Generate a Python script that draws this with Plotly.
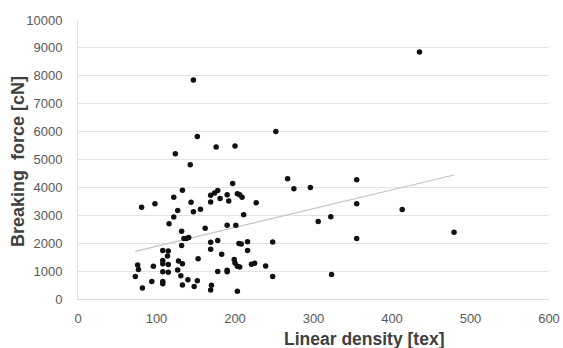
import numpy as np
import plotly.graph_objects as go

# Linear density [tex]
linear_density = [
    435, 147, 252, 152, 176, 200, 124, 143, 267, 355, 197, 275, 296, 133, 178, 174,
    169, 190, 203, 206, 209, 122, 181, 81, 98, 144, 169, 192, 227, 355, 413, 127,
    147, 156, 211, 122, 322, 306, 116, 162, 190, 201, 479, 132, 138, 135, 141, 355,
    178, 169, 216, 205, 208, 248, 132, 169, 108, 115, 216, 183, 114, 153, 199, 108,
    128, 200, 108, 115, 133, 221, 225, 76, 96, 203, 206, 239, 77, 127, 190, 190,
    178, 108, 115, 131, 73, 248, 323, 140, 94, 108, 152, 108, 133, 170, 148, 82,
    169, 203,
]
# Breaking force [cN]
breaking_force = [
    8850, 7850, 6000, 5820, 5450, 5480, 5210, 4810, 4310, 4270, 4140, 3950, 4000, 3900, 3890, 3800,
    3720, 3735, 3770, 3735, 3650, 3650, 3600, 3290, 3410, 3470, 3480, 3510, 3450, 3410, 3210, 3170,
    3130, 3220, 3020, 2940, 2950, 2780, 2700, 2540, 2640, 2640, 2390, 2430, 2170, 2170, 2200, 2170,
    2100, 2030, 2050, 1990, 1970, 2040, 1920, 1780, 1740, 1720, 1740, 1600, 1540, 1440, 1420, 1380,
    1360, 1290, 1265, 1240, 1265, 1250, 1280, 1220, 1170, 1170, 1145, 1180, 1060, 1040, 1030, 980,
    990, 980, 955, 835, 810, 810, 880, 690, 630, 630, 655, 550, 500, 490, 450, 395,
    320, 275,
]

x_ticks = [0, 100, 200, 300, 400, 500, 600]
y_ticks = [0, 1000, 2000, 3000, 4000, 5000, 6000, 7000, 8000, 9000, 10000]
x_title = "Linear density [tex]"
y_title = "Breaking\u00a0 force [cN]"

xa = np.array(linear_density, dtype=float)
ya = np.array(breaking_force, dtype=float)
slope, intercept = np.polyfit(xa, ya, 1)
trend_x = np.array([xa.min(), xa.max()])
trend_y = slope * trend_x + intercept

fig = go.Figure()
fig.add_trace(go.Scatter(
    x=trend_x, y=trend_y, mode="lines",
    line=dict(color="#c4c4c4", width=1.2),
    showlegend=False, hoverinfo="skip",
))
fig.add_trace(go.Scatter(
    x=linear_density, y=breaking_force, mode="markers",
    marker=dict(color="#111111", size=5.5, line=dict(width=0)),
    showlegend=False,
))

font_family = "Liberation Sans, Arial, sans-serif"
W, H = 563, 348
ML, MR, MT, MB = 78, 14, 20, 49
PW, PH = W - ML - MR, H - MT - MB

fig.update_layout(
    width=W, height=H,
    margin=dict(l=ML, r=MR, t=MT, b=MB),
    paper_bgcolor="white", plot_bgcolor="white",
    font=dict(family=font_family, color="#595959", size=13),
    xaxis=dict(
        range=[0, 600], tickvals=x_ticks, ticktext=[str(v) for v in x_ticks],
        showgrid=False, zeroline=False, showline=True, linecolor="#d9d9d9", linewidth=1,
        ticks="", ticklabelstandoff=7, automargin=False,
    ),
    yaxis=dict(
        range=[0, 10000], tickvals=y_ticks, ticktext=[str(v) for v in y_ticks],
        showgrid=True, gridcolor="#e3e3e3", gridwidth=1.2,
        zeroline=False, showline=True, linecolor="#e3e3e3", linewidth=1,
        ticks="", ticklabelstandoff=12, automargin=False,
    ),
    annotations=[
        dict(text=x_title, xref="paper", yref="paper",
             x=(364 - ML) / PW, y=(H - MB - 339) / PH,
             xanchor="center", yanchor="middle", showarrow=False,
             font=dict(family=font_family, size=17.5, color="#404040", weight="bold")),
        dict(text=y_title, xref="paper", yref="paper",
             x=(18 - ML) / PW, y=(H - MB - 162) / PH, textangle=-90,
             xanchor="center", yanchor="middle", showarrow=False,
             font=dict(family=font_family, size=18, color="#404040", weight="bold")),
    ],
)

fig.write_html("out.html")
